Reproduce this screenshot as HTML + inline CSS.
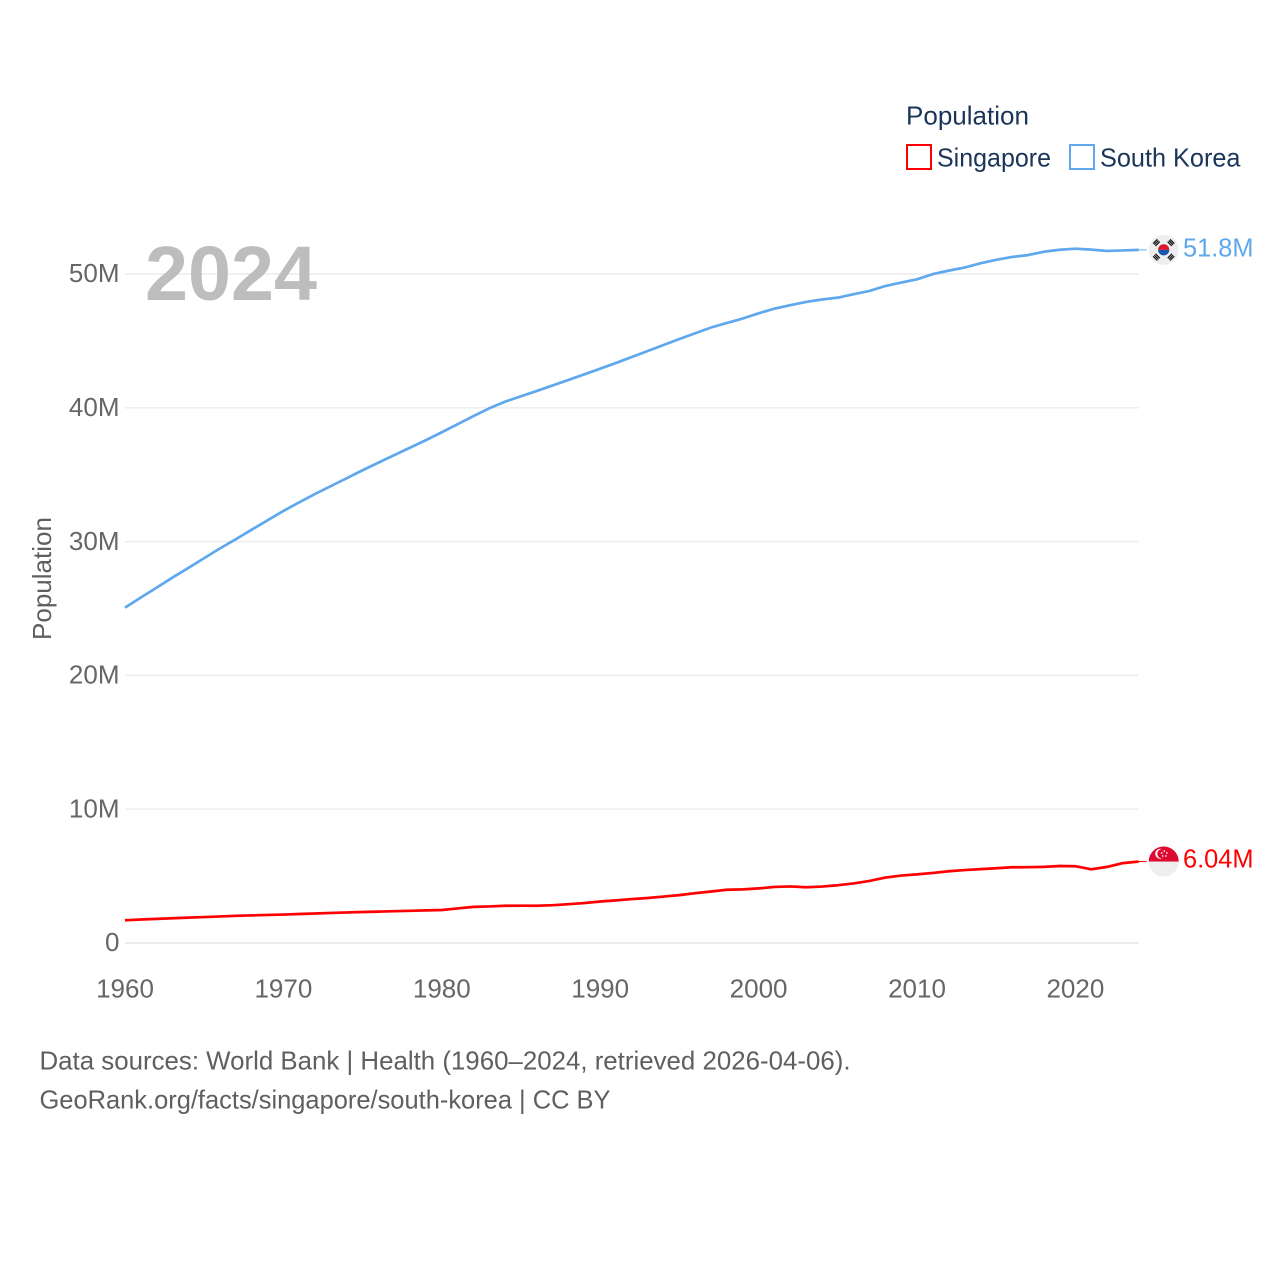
<!DOCTYPE html>
<html lang="en">
<head>
<meta charset="utf-8">
<title>Population: Singapore and South Korea</title>
<style>
html,body{margin:0;padding:0;background:#fff;}
svg{display:block;font-family:"Liberation Sans",sans-serif;}
</style>
</head>
<body>
<svg id="chart" width="1280" height="1280" viewBox="0 0 1280 1280" xmlns="http://www.w3.org/2000/svg">
  <defs>
    <clipPath id="flag-sk-clip"><circle cx="0" cy="0" r="15"/></clipPath>
    <clipPath id="flag-sg-clip"><circle cx="0" cy="0" r="15"/></clipPath>
  </defs>
  <rect x="0" y="0" width="1280" height="1280" fill="#fff"/>
  <g id="grid"></g>
  <g id="yticks"></g>
  <g id="xticks"></g>
  <text x="145" y="300" font-size="77" font-weight="700" fill="#bdbdbd" textLength="172" lengthAdjust="spacingAndGlyphs">2024</text>
  <text transform="translate(51,640) rotate(-90)" font-size="26" fill="#5f5f5f" textLength="123" lengthAdjust="spacingAndGlyphs">Population</text>
  <g id="series"></g>
  <g>
    <text x="906" y="124.5" font-size="26" fill="#1b3558" textLength="123" lengthAdjust="spacingAndGlyphs">Population</text>
    <g>
      <rect x="907" y="145" width="24" height="24" fill="#fff" stroke="#ff0000" stroke-width="2"/>
      <text x="937" y="166.5" font-size="26" fill="#1b3558" textLength="114" lengthAdjust="spacingAndGlyphs">Singapore</text>
    </g>
    <g>
      <rect x="1070" y="145" width="24" height="24" fill="#fff" stroke="#5fa8ee" stroke-width="2"/>
      <text x="1100" y="166.5" font-size="26" fill="#1b3558" textLength="140.5" lengthAdjust="spacingAndGlyphs">South Korea</text>
    </g>
  </g>
  <g id="flag-sk">
    <g clip-path="url(#flag-sk-clip)">
      <rect x="-16" y="-16" width="32" height="32" fill="#eeeeee"/>
      <path d="M-5.6 0 A5.6 5.6 0 0 1 5.6 0Z" fill="#e0162b"/>
      <path d="M-5.6 0 A5.6 5.6 0 0 0 5.6 0Z" fill="#1a56b0"/>
      <g stroke="#111" stroke-width="1.2">
        <g transform="rotate(-45)"><path d="M-3 -8.6H3M-3 -10.3H3M-3 -12H3"/></g>
        <g transform="rotate(45)"><path d="M-3 -8.6H3M-3 -10.3H3M-3 -12H3"/></g>
        <g transform="rotate(135)"><path d="M-3 -8.6H3M-3 -10.3H3M-3 -12H3"/></g>
        <g transform="rotate(-135)"><path d="M-3 -8.6H3M-3 -10.3H3M-3 -12H3"/></g>
      </g>
    </g>
  </g>
  <g id="flag-sg">
    <g clip-path="url(#flag-sg-clip)">
      <rect x="-16" y="-16" width="32" height="32" fill="#eeeeee"/>
      <rect x="-16" y="-16" width="32" height="16" fill="#df0a30"/>
      <circle cx="-3.5" cy="-7.8" r="5" fill="#fff"/>
      <circle cx="-1.7" cy="-7.8" r="4.7" fill="#df0a30"/>
      <g fill="#fff">
        <circle cx="0.6" cy="-10.6" r="0.8"/><circle cx="3.2" cy="-8.6" r="0.8"/><circle cx="2.2" cy="-5.6" r="0.8"/>
        <circle cx="-1" cy="-5.6" r="0.8"/><circle cx="-2" cy="-8.6" r="0.8"/>
      </g>
    </g>
  </g>
  <text id="label-sk" x="1183" y="256.5" font-size="26" fill="#5fa8ee" textLength="70.5" lengthAdjust="spacingAndGlyphs">51.8M</text>
  <text id="label-sg" x="1183" y="867.5" font-size="26" fill="#ff0000" textLength="70.5" lengthAdjust="spacingAndGlyphs">6.04M</text>
  <g>
    <text x="39.5" y="1069.5" font-size="26" fill="#5f5f5f" textLength="811" lengthAdjust="spacingAndGlyphs">Data sources: World Bank | Health (1960–2024, retrieved 2026-04-06).</text>
    <text x="39.5" y="1108.5" font-size="26" fill="#5f5f5f" textLength="571" lengthAdjust="spacingAndGlyphs">GeoRank.org/facts/singapore/south-korea | CC BY</text>
  </g>
</svg>
<script>
const startYear = 1960;
const xTickYears = [1960, 1970, 1980, 1990, 2000, 2010, 2020];
const yTickValues = [0, 10, 20, 30, 40, 50];
const yTickLabels = ['0', '10M', '20M', '30M', '40M', '50M'];
const southKorea = [25.01,25.77,26.51,27.26,27.98,28.71,29.44,30.13,30.84,31.54,32.24,32.88,33.51,34.10,34.69,35.28,35.85,36.41,36.97,37.53,38.12,38.72,39.33,39.91,40.41,40.81,41.21,41.62,42.03,42.45,42.87,43.30,43.75,44.19,44.64,45.09,45.52,45.95,46.29,46.62,47.01,47.36,47.62,47.86,48.04,48.18,48.44,48.68,49.05,49.31,49.55,49.94,50.20,50.43,50.75,51.01,51.22,51.36,51.61,51.76,51.84,51.77,51.67,51.71,51.75];
const singapore = [1.646,1.702,1.750,1.795,1.842,1.887,1.934,1.978,2.012,2.043,2.075,2.113,2.152,2.193,2.230,2.263,2.293,2.325,2.354,2.384,2.414,2.533,2.647,2.681,2.733,2.736,2.733,2.775,2.847,2.931,3.047,3.135,3.231,3.313,3.420,3.525,3.670,3.796,3.927,3.958,4.028,4.138,4.176,4.115,4.167,4.266,4.401,4.589,4.839,4.988,5.077,5.184,5.312,5.399,5.470,5.535,5.607,5.612,5.638,5.704,5.686,5.454,5.637,5.918,6.036];

const SVG_NS = 'http://www.w3.org/2000/svg';
const lineShift = -0.7;
function xScale(year) { return 125 + (year - 1960) * 15.84; }
function yScale(millions) { return 943 - millions * 13.38; }
function make(tag, attrs, parent) {
  const el = document.createElementNS(SVG_NS, tag);
  for (const k in attrs) el.setAttribute(k, attrs[k]);
  parent.appendChild(el);
  return el;
}
const grid = document.getElementById('grid');
const yticks = document.getElementById('yticks');
const xticks = document.getElementById('xticks');
const seriesGroup = document.getElementById('series');

yTickValues.forEach(function (v, i) {
  const line = make('line', {x1: 125, x2: 1138.5, y1: yScale(v), y2: yScale(v), stroke: '#ebebeb', 'stroke-width': v === 0 ? 2 : 1.4}, grid);
  
  
  const label = make('text', {x: 119.5, y: yScale(v) + 8.2, 'text-anchor': 'end', 'font-size': 26, fill: '#666666'}, yticks);
  
  
  label.textContent = yTickLabels[i];
});
xTickYears.forEach(function (year) {
  const label = make('text', {x: xScale(year), y: 997.5, 'text-anchor': 'middle', 'font-size': 26, fill: '#666666'}, xticks);
  
  
  label.textContent = String(year);
});

function pathFor(values) {
  return values.map(function (v, i) {
    return (i ? 'L' : 'M') + xScale(startYear + i).toFixed(2) + ' ' + (yScale(v) + lineShift).toFixed(2);
  }).join(' ');
}
function drawSeries(values, color, flagId, name) {
  const lastY = yScale(values[values.length - 1]) + lineShift;
  const lastX = xScale(startYear + values.length - 1);
  const path = make('path', {d: pathFor(values), fill: 'none', stroke: color, 'stroke-width': 2.7, 'stroke-linejoin': 'round', 'stroke-linecap': 'butt'}, seriesGroup);
  
  
  const connector = make('line', {x1: lastX, x2: lastX + 8, y1: lastY, y2: lastY, stroke: color, 'stroke-width': 1}, seriesGroup);
  
  
  document.getElementById(flagId).setAttribute('transform', 'translate(1163.7,' + lastY.toFixed(2) + ')');
}
drawSeries(singapore, '#ff0000', 'flag-sg', 'singapore-line');
drawSeries(southKorea, '#5fa8ee', 'flag-sk', 'south-korea-line');
</script>
</body>
</html>
